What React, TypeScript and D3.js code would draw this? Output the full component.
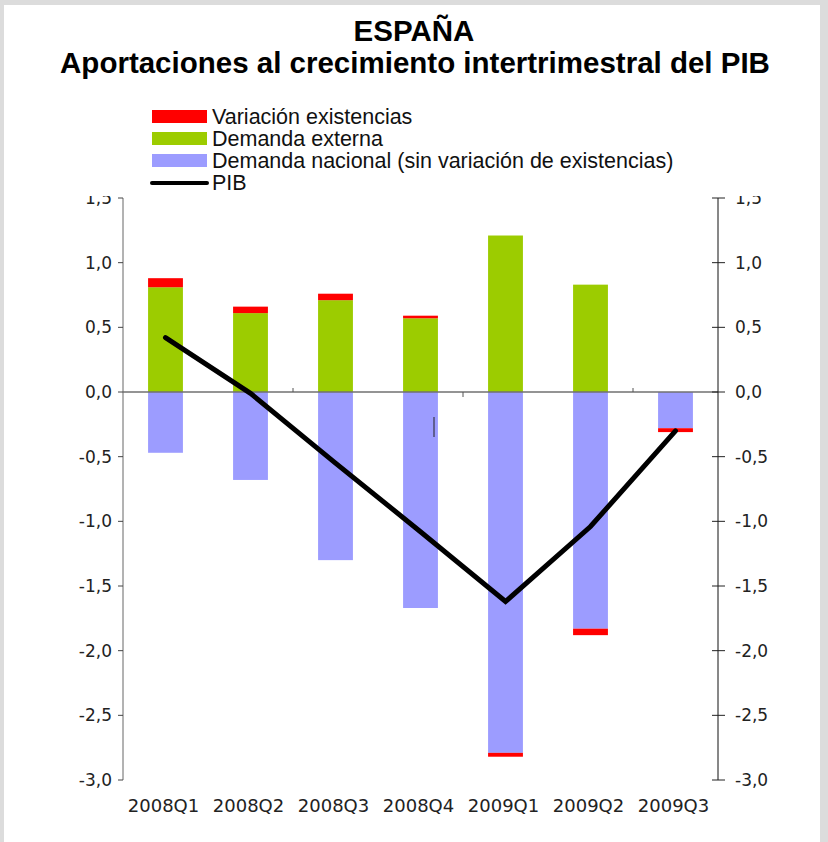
import React from "react";
import * as d3 from "d3";

const categories = ["2008Q1", "2008Q2", "2008Q3", "2008Q4", "2009Q1", "2009Q2", "2009Q3"];
const variacionExistencias = [0.07, 0.05, 0.05, 0.02, -0.03, -0.05, -0.03];
const demandaExterna = [0.81, 0.61, 0.71, 0.57, 1.21, 0.83, 0];
const demandaNacional = [-0.47, -0.68, -1.3, -1.67, -2.79, -1.83, -0.28];
const pib = [0.42, -0.01, -0.55, -1.08, -1.62, -1.04, -0.3];
const yTicks = [1.5, 1.0, 0.5, 0.0, -0.5, -1.0, -1.5, -2.0, -2.5, -3.0];

const legendItems = [
  { label: "Variación existencias", color: "#ff0000", kind: "rect" },
  { label: "Demanda externa", color: "#9ccc00", kind: "rect" },
  { label: "Demanda nacional (sin variación de existencias)", color: "#9c9cff", kind: "rect" },
  { label: "PIB", color: "#000000", kind: "line" },
];

const W = 828;
const H = 842;
const left = 123;
const right = 718;

const fmt = (v: number) => d3.format(".1f")(v).replace(".", ",").replace("−", "-");

export default function App() {
  const x = d3.scaleBand().domain(categories).range([left, right]).paddingInner(0.59).paddingOuter(0.295);
  const y = d3.scaleLinear().domain([-3, 1.5]).range([780, 198]);
  const cx = (c: string) => (x(c) ?? 0) + x.bandwidth() / 2;
  const bw = x.bandwidth();

  // stacked pieces: green/red above zero, blue (and negative red) below
  const bars: { c: string; y0: number; y1: number; color: string }[] = [];
  categories.forEach((c, i) => {
    const g = demandaExterna[i];
    const n = demandaNacional[i];
    const v = variacionExistencias[i];
    if (g > 0) bars.push({ c, y0: 0, y1: g, color: "#9ccc00" });
    bars.push({ c, y0: 0, y1: n, color: "#9c9cff" });
    if (v >= 0) bars.push({ c, y0: g, y1: g + v, color: "#ff0000" });
    else bars.push({ c, y0: n, y1: n + v, color: "#ff0000" });
  });

  const line = d3
    .line<number>()
    .x((_, i) => cx(categories[i]))
    .y((d) => y(d));

  const font = "'DejaVu Sans', sans-serif";
  const sans = "'Liberation Sans', Arial, sans-serif";

  return (
    <svg width={W} height={H} style={{ position: "fixed", left: 0, top: 0, display: "block" }}>
      <rect x={0} y={0} width={W} height={H} fill="#dcdcdc" />
      <rect x={4} y={5} width={816} height={H - 5} fill="#ffffff" />

      <text x={414} y={41} textAnchor="middle" fontFamily={sans} fontWeight="bold" fontSize={29.5} fill="#000">
        ESPAÑA
      </text>
      <text x={415} y={73} textAnchor="middle" fontFamily={sans} fontWeight="bold" fontSize={29.5} fill="#000">
        Aportaciones al crecimiento intertrimestral del PIB
      </text>

      {/* tick labels */}
      {yTicks.map((t) => (
        <g key={t} fontFamily={font} fontSize={17} fill="#222">
          <text x={112} y={y(t) + 6} textAnchor="end">{fmt(t)}</text>
          <text x={735} y={y(t) + 6}>{fmt(t)}</text>
        </g>
      ))}

      {/* legend box covers the top labels */}
      <rect x={60} y={104} width={730} height={92} fill="#ffffff" />
      {legendItems.map((d, i) => {
        const yy = 117 + i * 22;
        return (
          <g key={d.label}>
            {d.kind === "rect" ? (
              <rect x={152} y={yy - 7} width={55} height={13} fill={d.color} />
            ) : (
              <line x1={152} x2={207} y1={yy} y2={yy} stroke={d.color} strokeWidth={4} strokeLinecap="round" />
            )}
            <text x={212} y={yy + 7} fontFamily={sans} fontSize={21.5} fill="#111">
              {d.label}
            </text>
          </g>
        );
      })}

      {/* bars */}
      {bars.map((b, i) => (
        <rect
          key={i}
          x={x(b.c)}
          width={bw}
          y={Math.min(y(b.y0), y(b.y1))}
          height={Math.abs(y(b.y0) - y(b.y1))}
          fill={b.color}
        />
      ))}

      {/* zero line */}
      <line x1={left} x2={right} y1={y(0)} y2={y(0)} stroke="#707070" strokeWidth={1.5} />
      {[1, 3, 5].map((k, j) => {
        const xx = (x(categories[k]) ?? 0) + bw + (x.step() - bw) / 2;
        return (
          <line key={k} x1={xx} x2={xx} y1={y(0)} y2={y(0) + (j === 1 ? 5 : -4)} stroke="#555" strokeWidth={1} />
        );
      })}
      <line x1={434} x2={434} y1={417} y2={437} stroke="#222" strokeWidth={1} />

      {/* left axis */}
      <line x1={left} x2={left} y1={y(1.5)} y2={y(-3)} stroke="#666" strokeWidth={1} />
      {yTicks.map((t) => (
        <line key={t} x1={left - 5} x2={left} y1={y(t)} y2={y(t)} stroke="#444" strokeWidth={1} />
      ))}
      {/* right axis */}
      <line x1={right} x2={right} y1={y(1.5)} y2={y(-3)} stroke="#111" strokeWidth={1} />
      {yTicks.map((t) => (
        <line key={t} x1={right - 6} x2={right + 7} y1={y(t)} y2={y(t)} stroke="#222" strokeWidth={1} />
      ))}

      {/* PIB line */}
      <path d={line(pib) ?? ""} fill="none" stroke="#000" strokeWidth={5} strokeLinecap="round" strokeLinejoin="miter" />

      {/* category labels */}
      {categories.map((c) => (
        <text key={c} x={cx(c) - 2} y={812} textAnchor="middle" fontFamily={font} fontSize={18} fill="#222">
          {c}
        </text>
      ))}
    </svg>
  );
}
